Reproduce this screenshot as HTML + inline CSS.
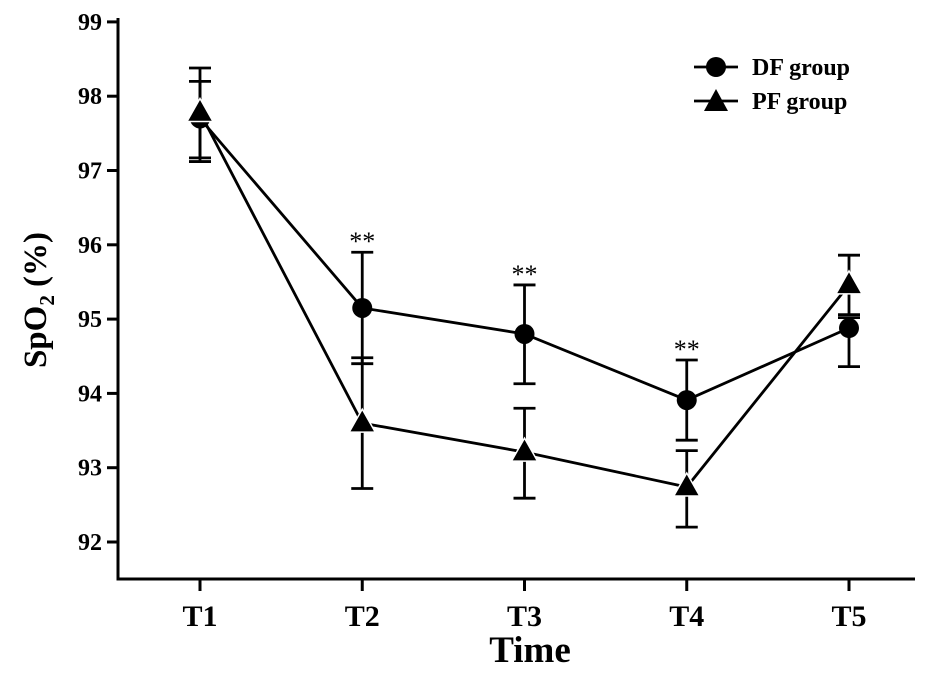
<!DOCTYPE html>
<html><head><meta charset="utf-8"><style>
body{margin:0;background:#fff}
svg{display:block;font-family:"Liberation Serif",serif;font-weight:bold}
</style></head><body>
<svg id="chart" width="945" height="677" viewBox="0 0 945 677" xmlns="http://www.w3.org/2000/svg">
<g id="axes"></g><g id="series"></g>
<g>
<line x1="694" y1="67" x2="738" y2="67" stroke="#000" stroke-width="2.8"/>
<circle cx="716" cy="67" r="10" fill="#000"/>
<text x="752" y="75" font-size="24">DF group</text>
<line x1="694" y1="101" x2="738" y2="101" stroke="#000" stroke-width="2.8"/>
<polygon points="716,89 728,111 704,111" fill="#000"/>
<text x="752" y="109" font-size="24">PF group</text>
</g>
<text x="530" y="662" font-size="37" text-anchor="middle">Time</text>
<text transform="translate(46,300) rotate(-90)" font-size="33" text-anchor="middle">SpO<tspan font-size="21" dy="8">2</tspan><tspan dy="-8"> (%)</tspan></text>
</svg>
<script>
const categories=["T1","T2","T3","T4","T5"];
const yTicks=[92,93,94,95,96,97,98,99];
const dfMean=[97.7,95.15,94.8,93.91,94.88];
const dfUpper=[98.2,95.9,95.46,94.45,95.02];
const dfLower=[97.17,94.4,94.13,93.37,94.36];
const pfMean=[97.78,93.6,93.21,92.74,95.46];
const pfUpper=[98.38,94.48,93.8,93.23,95.86];
const pfLower=[97.12,92.72,92.59,92.2,95.06];
const sig=["","**","**","**",""];
const NS="http://www.w3.org/2000/svg";
const x0=118,x1=915,yB=579;
function xs(i){return 200+i*162.25;}
function ys(v){return 542-(v-92)*74.3;}
function mk(tag,attrs,parent){const e=document.createElementNS(NS,tag);for(const k in attrs)e.setAttribute(k,attrs[k]);parent.appendChild(e);return e;}
const ax=document.getElementById('axes'),se=document.getElementById('series');
let e=mk('path',{d:`M${x0},18V${yB}H${x1}`,fill:'none',stroke:'#000','stroke-width':3},ax);


yTicks.forEach(v=>{
 let t=mk('line',{x1:107,x2:x0,y1:ys(v),y2:ys(v),stroke:'#000','stroke-width':3},ax);
 
 
 let l=mk('text',{x:102,y:ys(v)+8,'font-size':24,'text-anchor':'end'},ax);l.textContent=v;
 
 
});
categories.forEach((c,i)=>{
 let t=mk('line',{x1:xs(i),x2:xs(i),y1:yB,y2:591,stroke:'#000','stroke-width':3},ax);
 
 
 let l=mk('text',{x:xs(i),y:626,'font-size':30,'text-anchor':'middle'},ax);l.textContent=c;
 
 
});
function series(mean,up,lo,kind){
 let p=mk('polyline',{points:mean.map((v,i)=>xs(i)+','+ys(v)).join(' '),fill:'none',stroke:'#000','stroke-width':2.8},se);
 
 
 mean.forEach((v,i)=>{
  const x=xs(i);
  let g=mk('path',{d:`M${x},${ys(up[i])}V${ys(lo[i])}M${x-11},${ys(up[i])}H${x+11}M${x-11},${ys(lo[i])}H${x+11}`,stroke:'#000','stroke-width':2.8,fill:'none'},se);
  
  
 });
}
series(dfMean,dfUpper,dfLower,'df');
series(pfMean,pfUpper,pfLower,'pf');
dfMean.forEach((v,i)=>{
 let c=mk('circle',{cx:xs(i),cy:ys(v),r:10,fill:'#000'},se);
 
 
});
pfMean.forEach((v,i)=>{
 const x=xs(i),y=ys(v);
 let t=mk('polygon',{points:`${x},${y-14} ${x+13},${y+9} ${x-13},${y+9}`,fill:'#000',stroke:'#fff','stroke-width':1.5},se);
 
 
});
sig.forEach((s,i)=>{
 if(!s)return;
 let t=mk('text',{x:xs(i),y:ys(dfUpper[i])-2,'font-size':26,'font-weight':'normal','text-anchor':'middle'},se);
 t.textContent=s;
 
 
});
</script>
</body></html>
